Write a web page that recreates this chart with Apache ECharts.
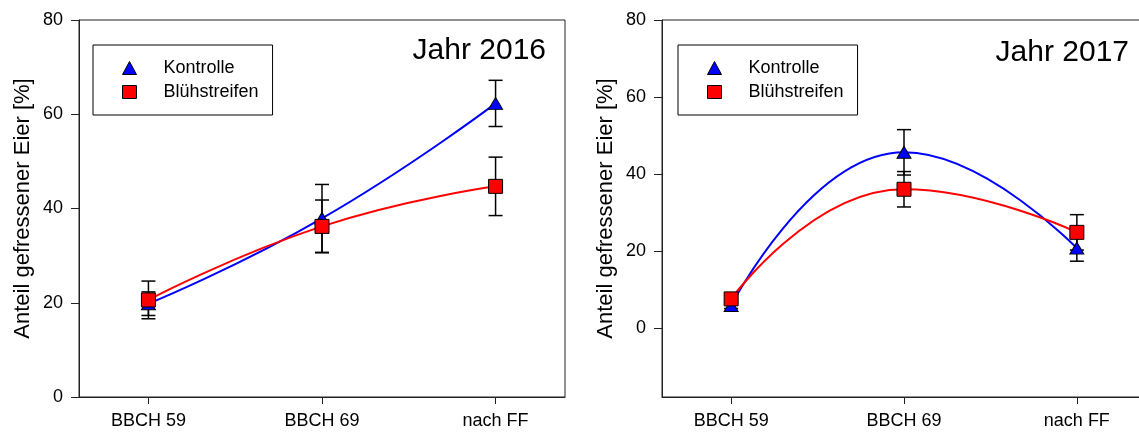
<!DOCTYPE html>
<html lang="de" style="height: 100%">
<head>
    <meta charset="UTF-8">
    <title>Anteil gefressener Eier 2016 / 2017</title>
    <script src="https://cdn.jsdelivr.net/npm/echarts@6/dist/echarts.min.js"></script>
</head>
<body style="height: 100%; margin: 0; background: #fff">
    <div id="main" style="width: 1139px; height: 432px"></div>
    <script>
        // Daten
        var categories = ['BBCH 59', 'BBCH 69', 'nach FF'];
        var yTicks = [0, 20, 40, 60, 80];

        var kontrolle2016 = [19.8, 37.9, 62.3];
        var kontrolle2016Err = [2.5, 7.2, 4.9];
        var bluehstreifen2016 = [20.6, 36.2, 44.7];
        var bluehstreifen2016Err = [4.0, 5.6, 6.2];

        var kontrolle2017 = [5.8, 45.6, 20.7];
        var kontrolle2017Err = [0.8, 5.9, 3.4];
        var bluehstreifen2017 = [7.5, 36.0, 24.8];
        var bluehstreifen2017Err = [1.0, 4.6, 4.6];

        var font = 'Liberation Sans, Arial, sans-serif';
        var axisColor = '#222';

        function points(vals) {
            return vals.map(function (v, i) { return [i + 1, v]; });
        }
        function bars(vals, errs) {
            return vals.map(function (v, i) { return [i + 1, v - errs[i], v + errs[i]]; });
        }

        // Fehlerbalken mit Querstrichen
        function renderErr(params, api) {
            var x = api.value(0);
            var lo = api.coord([x, api.value(1)]);
            var hi = api.coord([x, api.value(2)]);
            var w = 7;
            var st = { stroke: '#000', lineWidth: 1.5 };
            return {
                type: 'group',
                children: [
                    { type: 'line', shape: { x1: lo[0], y1: lo[1], x2: hi[0], y2: hi[1] }, style: st },
                    { type: 'line', shape: { x1: hi[0] - w, y1: hi[1], x2: hi[0] + w, y2: hi[1] }, style: st },
                    { type: 'line', shape: { x1: lo[0] - w, y1: lo[1], x2: lo[0] + w, y2: lo[1] }, style: st }
                ]
            };
        }

        function xAxis(idx) {
            return {
                type: 'value', gridIndex: idx, min: 0.6, max: 3.4,
                axisLine: { onZero: false, lineStyle: { color: axisColor, width: 1 } },
                axisTick: { customValues: [1, 2, 3], length: 7, lineStyle: { color: axisColor } },
                axisLabel: {
                    customValues: [1, 2, 3], margin: 15, color: '#000',
                    fontFamily: font, fontSize: 18,
                    formatter: function (v) { return categories[Math.round(v) - 1]; }
                },
                splitLine: { show: false }
            };
        }
        function yAxis(idx, min) {
            return {
                type: 'value', gridIndex: idx, min: min, max: 80,
                name: 'Anteil gefressener Eier [%]', nameLocation: 'middle', nameGap: 45,
                nameTextStyle: { fontFamily: font, fontSize: 22, color: '#000' },
                axisLine: { show: true, onZero: false, lineStyle: { color: axisColor, width: 1 } },
                axisTick: { show: true, customValues: yTicks, length: 8, lineStyle: { color: axisColor } },
                axisLabel: { customValues: yTicks, margin: 16, color: '#000', fontFamily: font, fontSize: 18 },
                splitLine: { show: false }
            };
        }
        function legend(left) {
            return {
                left: left, top: 45, orient: 'vertical',
                data: [{ name: 'Kontrolle', icon: 'triangle' }, { name: 'Blühstreifen', icon: 'rect' }],
                itemWidth: 14, itemHeight: 13, itemGap: 6,
                padding: [14, 14, 14, 29],
                borderColor: '#000', borderWidth: 1,
                itemStyle: { borderColor: '#000', borderWidth: 1 },
                textStyle: { fontFamily: font, fontSize: 18, color: '#000', padding: [0, 0, 0, 22] },
                selectedMode: false
            };
        }
        function errSeries(idx, vals, errs) {
            return {
                type: 'custom', xAxisIndex: idx, yAxisIndex: idx, z: 1,
                renderItem: renderErr, data: bars(vals, errs), silent: true
            };
        }
        function lineSeries(idx, name, vals, color, symbol, size) {
            return {
                name: name, type: 'line', xAxisIndex: idx, yAxisIndex: idx, z: 3,
                data: points(vals), smooth: 0.5,
                symbol: symbol, symbolSize: size,
                lineStyle: { color: color, width: 2 },
                itemStyle: { color: color, borderColor: '#000', borderWidth: 1, opacity: 1 },
                emphasis: { disabled: true }
            };
        }

        var myChart = echarts.init(document.getElementById('main'));

        var option = {
            backgroundColor: '#fff',
            animation: false,
            title: [
                { text: 'Jahr 2016', right: 593, top: 36, padding: 0,
                  textStyle: { fontFamily: font, fontSize: 30, fontWeight: 'normal', color: '#000' } },
                { text: 'Jahr 2017', right: 10, top: 38, padding: 0,
                  textStyle: { fontFamily: font, fontSize: 30, fontWeight: 'normal', color: '#000' } }
            ],
            legend: [legend(93), legend(678)],
            grid: [
                { left: 79, top: 20, width: 486, height: 377, show: true, borderColor: axisColor, borderWidth: 1, outerBoundsMode: 'none' },
                { left: 662, top: 20, width: 484, height: 377, show: true, borderColor: axisColor, borderWidth: 1, outerBoundsMode: 'none' }
            ],
            xAxis: [xAxis(0), xAxis(1)],
            yAxis: [yAxis(0, 0), yAxis(1, -18)],
            series: [
                errSeries(0, kontrolle2016, kontrolle2016Err),
                errSeries(0, bluehstreifen2016, bluehstreifen2016Err),
                errSeries(1, kontrolle2017, kontrolle2017Err),
                errSeries(1, bluehstreifen2017, bluehstreifen2017Err),
                lineSeries(0, 'Kontrolle', kontrolle2016, '#0000ff', 'triangle', [14, 12]),
                lineSeries(0, 'Blühstreifen', bluehstreifen2016, '#ff0000', 'rect', 14),
                lineSeries(1, 'Kontrolle', kontrolle2017, '#0000ff', 'triangle', [14, 12]),
                lineSeries(1, 'Blühstreifen', bluehstreifen2017, '#ff0000', 'rect', 14)
            ]
        };

        myChart.setOption(option);
        window.addEventListener('resize', myChart.resize);
    </script>
</body>
</html>
